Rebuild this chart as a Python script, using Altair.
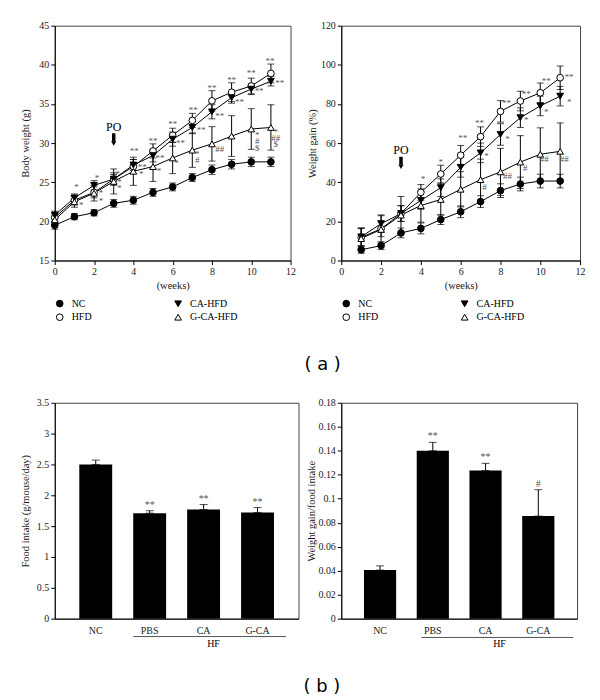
import altair as alt
import pandas as pd

SERIF = "Liberation Serif"

groups = ["NC", "HFD", "CA-HFD", "G-CA-HFD"]
legend_shapes = ["circle", "circle", "triangle-down", "triangle-up"]
legend_fills = ["black", "white", "black", "white"]
legend_strokes = ["black", "black", "black", "black"]

# ---------------- (a) left: body weight ----------------
bw_weeks = [0, 1, 2, 3, 4, 5, 6, 7, 8, 9, 10, 11]
bw_nc = [19.5, 20.6, 21.1, 22.3, 22.7, 23.7, 24.4, 25.6, 26.6, 27.3, 27.6, 27.6]
bw_nc_err = [0.5, 0.4, 0.4, 0.5, 0.5, 0.5, 0.5, 0.5, 0.6, 0.6, 0.6, 0.6]
bw_hfd = [20.5, 22.7, 23.7, 25.4, 27.0, 29.0, 31.0, 32.9, 35.4, 36.5, 37.3, 38.9]
bw_hfd_err = [0.5, 0.6, 0.7, 0.8, 0.9, 0.9, 0.9, 0.9, 1.3, 1.2, 1.0, 1.2]
bw_ca = [20.8, 23.0, 24.6, 25.4, 27.2, 28.4, 30.5, 32.0, 34.0, 35.8, 36.9, 37.9]
bw_ca_err = [0.5, 0.5, 0.6, 0.6, 0.7, 0.8, 0.9, 0.8, 0.9, 0.7, 0.7, 0.6]
bw_gca = [20.2, 22.5, 23.6, 25.1, 26.4, 27.0, 28.1, 29.1, 29.9, 30.9, 31.8, 32.0]
bw_gca_err = [0.6, 0.7, 1.0, 1.6, 1.8, 1.9, 2.0, 2.2, 2.2, 2.6, 2.6, 2.9]

bw_ann_x = [1.1, 1.35, 2.15, 2.35, 2.35, 3.2, 3.3, 3.3, 4.05, 4.45, 4.4, 5.0, 5.35, 5.3,
            6.0, 6.4, 6.2, 7.05, 7.45, 7.25, 7.25, 8.0, 8.4, 8.4, 9.0, 9.4,
            10.0, 10.4, 10.3, 10.3, 10.3, 10.95, 11.45, 11.25, 11.25, 11.25]
bw_ann_y = [24.4, 22.1, 25.5, 23.6, 22.6, 26.1, 25.0, 24.3, 29.0, 27.0, 26.1, 30.3, 28.1, 26.4,
            32.5, 30.0, 27.4, 34.2, 31.7, 28.6, 27.9, 37.1, 33.5, 29.2, 38.1, 35.3,
            38.9, 36.6, 31.0, 30.3, 29.4, 40.5, 37.7, 31.4, 30.7, 29.85]
bw_ann_t = ["*", "*", "*", "*", "*", "*", "*", "*", "**", "**", "*", "**", "**", "*",
            "**", "**", "*", "**", "**", "*", "#", "**", "**", "##", "**", "**",
            "**", "**", "*", "#", "$", "**", "**", "*", "##", "$"]
bw_po = {"px": [3], "py": [32.1], "ps1": [31.25], "ps2": [30.2], "ph": [29.95], "pt": ["PO"]}

# ---------------- (a) right: weight gain ----------------
wg_weeks = [1, 2, 3, 4, 5, 6, 7, 8, 9, 10, 11]
wg_nc = [5.5, 7.6, 14.1, 16.4, 20.9, 24.9, 30.1, 35.7, 39.1, 40.6, 40.6]
wg_nc_err = [1.8, 2.0, 2.5, 2.8, 2.5, 3.0, 3.0, 3.5, 3.5, 3.5, 3.5]
wg_hfd = [11.8, 16.2, 24.0, 34.8, 44.2, 53.8, 63.3, 76.2, 81.5, 85.7, 93.4]
wg_hfd_err = [4.5, 4.0, 4.0, 4.0, 4.5, 5.0, 5.0, 5.5, 5.0, 5.0, 6.0]
wg_ca = [12.1, 18.8, 24.0, 30.7, 37.2, 47.6, 55.0, 64.4, 73.0, 79.0, 84.0]
wg_ca_err = [4.5, 4.5, 4.0, 4.5, 4.5, 5.0, 5.0, 5.5, 5.0, 5.0, 5.0]
wg_gca = [11.2, 15.9, 23.2, 28.1, 31.2, 36.4, 41.3, 45.3, 50.3, 54.3, 55.8]
wg_gca_err = [5.4, 7.0, 9.5, 8.5, 8.0, 9.0, 10.5, 12.0, 13.5, 13.5, 14.5]

wg_ann_x = [4.1, 5.0, 6.1, 6.95, 7.3, 7.2, 8.3, 8.35, 8.35, 9.3, 9.3, 9.25,
            10.3, 10.3, 10.2, 11.45, 11.45, 11.2]
wg_ann_y = [41.5, 50.5, 62.4, 70.3, 53.5, 37.8, 80.5, 62.0, 43.2, 85.3, 71.7, 47.1,
            91.7, 75.9, 51.7, 93.7, 81.0, 51.7]
wg_ann_t = ["*", "*", "**", "**", "*", "#", "**", "*", "##", "**", "*", "#",
            "**", "*", "##", "**", "*", "##"]
wg_po = {"px": [3], "py": [56.4], "ps1": [53.0], "ps2": [49.0], "ph": [47.9], "pt": ["PO"]}

# ---------------- (b) bars ----------------
cats = ["NC", "PBS", "CA", "G-CA"]
food = [2.50, 1.71, 1.77, 1.72]
food_err = [0.07, 0.04, 0.08, 0.08]
food_sig = ["", "**", "**", "**"]
ratio = [0.0405, 0.140, 0.1235, 0.0855]
ratio_err = [0.0035, 0.007, 0.006, 0.022]
ratio_sig = ["", "**", "**", "#"]
hf_label = ["HF"]
food_hf_y = [-0.29, -0.41]
ratio_hf_y = [-0.0157, -0.0215]


def long_df(weeks, vals_list, err_list):
    rows = []
    for g, vals, errs in zip(groups, vals_list, err_list):
        for w, v, e in zip(weeks, vals, errs):
            rows.append({"week": w, "value": v, "lo": v - e, "hi": v + e, "group": g})
    return pd.DataFrame(rows)


def line_panel(df, ann, po, ydomain, yticks, ytitle, titlex, width, height, legx, legy):
    xs = alt.Scale(domain=[0, 12], nice=False, zero=False)
    ys = alt.Scale(domain=ydomain, nice=False, zero=False)
    xax = alt.Axis(values=list(range(0, 13, 2)), format="d", labelFlush=False,
                   title="(weeks)", titlePadding=4)
    yax = alt.Axis(values=yticks, title=ytitle, titleX=titlex, titleBaseline="middle")

    def X(f):
        return alt.X(f, type="quantitative", scale=xs, axis=xax)

    def Y(f):
        return alt.Y(f, type="quantitative", scale=ys, axis=yax)

    base = alt.Chart(df)
    lines = base.mark_line(color="black", strokeWidth=1).encode(
        x=X("week"), y=Y("value"), detail="group:N")
    errs = base.mark_errorbar(color="black", thickness=1, ticks={"size": 7}).encode(
        x=X("week"), y=Y("lo"), y2="hi", detail="group:N")
    leg = alt.Legend(title=None, orient="none", legendX=legx, legendY=legy, columns=2,
                     columnPadding=80, rowPadding=2, symbolSize=45,
                     symbolStrokeWidth=1, symbolOpacity=1,
                     labelFont=SERIF, labelFontSize=10, labelColor="black",
                     labelOffset=7, padding=0)
    pts = base.mark_point(filled=True, size=45, strokeWidth=1, opacity=1).encode(
        x=X("week"), y=Y("value"),
        shape=alt.Shape("group:N", scale=alt.Scale(domain=groups, range=legend_shapes), legend=leg),
        fill=alt.Fill("group:N", scale=alt.Scale(domain=groups, range=legend_fills), legend=leg),
        stroke=alt.Stroke("group:N", scale=alt.Scale(domain=groups, range=legend_strokes), legend=leg),
    )
    anns = alt.Chart(ann).mark_text(font=SERIF, fontSize=9, color="#555").encode(
        x=X("ax"), y=Y("ay"), text="t:N")
    pdf = pd.DataFrame(po)
    po_text = alt.Chart(pdf).mark_text(font=SERIF, fontSize=12, fontWeight="normal",
                                       color="black").encode(
        x=X("px"), y=Y("py"), text="pt:N")
    shaft = alt.Chart(pdf).mark_rule(color="black", strokeWidth=3.5).encode(
        x=X("px"), y=Y("ps1"), y2="ps2")
    head = alt.Chart(pdf).mark_point(shape="triangle-down", filled=True, size=28,
                                     color="black", opacity=1).encode(x=X("px"), y=Y("ph"))
    return alt.layer(lines, errs, pts, anns, po_text, shaft, head).properties(
        width=width, height=height)


def bar_panel(vals, errs, sig, hf_y, ydomain, yticks, ytitle, titlex, width, height,
              pad_outer, x_off, x2_off, hf_dx, title):
    df = pd.DataFrame({"cat": cats, "v": vals,
                       "top": [v + e for v, e in zip(vals, errs)], "sig": sig})
    hf = pd.DataFrame({"h1": ["PBS"], "h2": ["G-CA"], "hl": ["CA"],
                       "hy": [hf_y[0]], "hty": [hf_y[1]], "t": hf_label})
    xs = alt.Scale(domain=cats, paddingInner=0.39, paddingOuter=pad_outer)
    xax = alt.Axis(title=None, ticks=False, labelAngle=0, labelPadding=7)
    ys = alt.Scale(domain=ydomain, nice=False, zero=True)
    yax = alt.Axis(values=yticks, format="~g", title=ytitle, titleX=titlex,
                   titleBaseline="middle")

    def X(f):
        return alt.X(f, type="nominal", scale=xs, axis=xax)

    def Y(f):
        return alt.Y(f, type="quantitative", scale=ys, axis=yax)

    base = alt.Chart(df)
    bars = base.mark_bar(color="black").encode(x=X("cat"), y=Y("v"))
    err = base.mark_errorbar(color="black", thickness=1, ticks={"size": 8}).encode(
        x=X("cat"), y=Y("v"), y2="top")
    stars = base.mark_text(font=SERIF, fontSize=10, color="#555", dy=-6).encode(
        x=X("cat"), y=Y("top"), text="sig:N")
    hrule = alt.Chart(hf).mark_rule(color="#555", strokeWidth=1, xOffset=x_off,
                                    x2Offset=x2_off).encode(x=X("h1"), x2="h2", y=Y("hy"))
    htext = alt.Chart(hf).mark_text(font=SERIF, fontSize=10, color="black", dx=hf_dx).encode(
        x=X("hl"), y=Y("hty"), text="t:N")
    return alt.layer(bars, err, stars, hrule, htext).properties(
        width=width, height=height, title=title)


bw_df = long_df(bw_weeks, [bw_nc, bw_hfd, bw_ca, bw_gca],
                [bw_nc_err, bw_hfd_err, bw_ca_err, bw_gca_err])
wg_df = long_df(wg_weeks, [wg_nc, wg_hfd, wg_ca, wg_gca],
                [wg_nc_err, wg_hfd_err, wg_ca_err, wg_gca_err])
bw_ann = pd.DataFrame({"ax": bw_ann_x, "ay": bw_ann_y, "t": bw_ann_t})
wg_ann = pd.DataFrame({"ax": wg_ann_x, "ay": wg_ann_y, "t": wg_ann_t})

tl = line_panel(bw_df, bw_ann, bw_po, [15, 45], [15, 20, 25, 30, 35, 40, 45],
                "Body weight (g)", -29, 237, 236, 0, 274)
tr = line_panel(wg_df, wg_ann, wg_po, [0, 120], [0, 20, 40, 60, 80, 100, 120],
                "Weight gain (%)", -29, 240, 236, 0, 274)

title_a = alt.TitleParams("( a )", orient="top", anchor="start", frame="group", dx=251,
                          offset=24, font="DejaVu Sans", fontSize=18, fontWeight="normal",
                          color="black")
title_b = alt.TitleParams("( b )", orient="bottom", anchor="start", frame="group", dx=-38,
                          offset=29, font="DejaVu Sans", fontSize=18, fontWeight="normal",
                          color="black")

bl = bar_panel(food, food_err, food_sig, food_hf_y, [0, 3.5],
               [0, 0.5, 1, 1.5, 2, 2.5, 3, 3.5], "Food intake (g/mouse/day)", -29,
               245, 217, 0.455, -16.5, 28.5, 10, title_a)
br = bar_panel(ratio, ratio_err, ratio_sig, ratio_hf_y, [0, 0.18],
               [0, 0.02, 0.04, 0.06, 0.08, 0.1, 0.12, 0.14, 0.16, 0.18],
               "Weight gain/food intake", -30, 237, 217, 0.43, -11.5, 35, 14, title_b)

chart = alt.concat(
    tl, tr, bl, br, columns=2, spacing={"row": 143, "column": 43},
    bounds="flush", align="none"
).resolve_scale(
    shape="independent", fill="independent", stroke="independent"
).properties(
    padding={"left": 12, "top": 10, "right": 6, "bottom": 6}, background="white"
).configure_view(
    stroke="#444", strokeWidth=1
).configure_axis(
    labelFont=SERIF, labelFontSize=10, titleFont=SERIF, titleFontSize=10.5,
    titleFontWeight="normal", labelColor="#1a1a1a", titleColor="#1a1a1a",
    domainColor="black", tickColor="black", tickSize=4, grid=False, labelPadding=2
)

chart.save("out.html", embed_options={"renderer": "svg", "actions": False})
